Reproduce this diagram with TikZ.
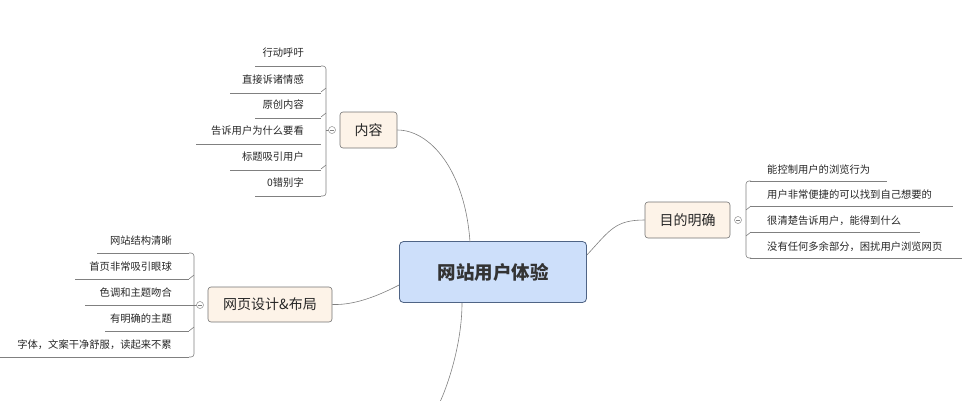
\documentclass[tikz,border=0pt]{standalone}
\usepackage{fontspec}
\newfontfamily\cjk{Noto Sans CJK SC}
\definecolor{cfill}{HTML}{CDDFFA}
\definecolor{cdraw}{HTML}{4F6485}
\definecolor{tfill}{HTML}{FDF3E8}
\begin{document}
\begin{tikzpicture}[x=1pt,y=-1pt,
  leaf/.style={font=\cjk\fontsize{10.3}{12}\selectfont,text=black!85,inner sep=0pt},
  topic/.style={draw=black!55,rounded corners=3pt,fill=tfill,font=\cjk\fontsize{14}{16}\selectfont,text=black!85,line width=0.6pt},
  ln/.style={draw=black!50,line width=0.6pt},
  col/.style={circle,draw=black!45,fill=white,inner sep=0pt,minimum size=7pt,line width=0.5pt}]
\useasboundingbox (0,0) rectangle (978,400);
\node[draw=cdraw,fill=cfill,rounded corners=4pt,minimum width=187pt,minimum height=61pt,font=\cjk\bfseries\fontsize{18.5}{20}\selectfont,text=black!80,line width=0.8pt] (c) at (493,272) {网站用户体验};
\node[topic,minimum width=57pt,minimum height=36pt] (nr) at (368.5,130) {内容};
\node[topic,minimum width=85pt,minimum height=36pt] (md) at (687.5,220) {目的明确};
\node[topic,minimum width=124pt,minimum height=35pt] (wy) at (270,304.5) {网页设计\&布局};
\draw[ln] (470,242) .. controls (465,170) and (430,130) .. (nr.east);
\draw[ln] (c.east|-0,255) .. controls (610,230) and (615,220) .. (md.west);
\draw[ln] (c.west|-0,285) .. controls (370,300) and (350,305) .. (wy.east);
\draw[ln] (462,303) .. controls (462,340) and (450,380) .. (440,402);
% content leaves
\foreach \t/\y/\x [count=\i] in {行动呼吁/53/255,直接诉诸情感/80/230,原创内容/105/255,告诉用户为什么要看/131/196,标题吸引用户/157/230,0错别字/183/255}{
  \node[leaf,anchor=east] (a\i) at (304,\y) {\t};
  \draw[ln] (\x,\y+13) -- (321,\y+13);
}
\draw[ln,rounded corners=3pt] (321,66) -- (326,66) -- (326,196) -- (321,196);
\foreach \y in {92,117,169}{\draw[ln,rounded corners=3pt] (321,\y) -- (326,\y-4);}
\draw[ln] (326,130) -- (332,130);
\node[col] (ca) at (332,130) {};
\draw[black!50,line width=0.5pt] ([xshift=-1.8pt]ca.center) -- ([xshift=1.8pt]ca.center);
% right leaves
\foreach \t/\y/\x [count=\i] in {能控制用户的浏览行为/170/887,用户非常便捷的可以找到自己想要的/195/953,很清楚告诉用户，能得到什么/221/920,没有任何多余部分，困扰用户浏览网页/247/962}{
  \node[leaf,anchor=west] (b\i) at (767,\y) {\t};
  \draw[ln] (750,\y+11) -- (\x,\y+11);
}
\draw[ln,rounded corners=3pt] (751,181) -- (746,181) -- (746,258) -- (751,258);
\foreach \y in {206,232}{\draw[ln,rounded corners=3pt] (751,\y) -- (746,\y+4);}
\node[col] (cb) at (738,220) {};
\draw[black!50,line width=0.5pt] ([xshift=-1.8pt]cb.center) -- ([xshift=1.8pt]cb.center);
% left leaves
\foreach \t/\y/\x [count=\i] in {网站结构清晰/241/97,首页非常吸引眼球/267/75,色调和主题吻合/293/85,有明确的主题/319/105,字体，文案干净舒服，读起来不累/345/0}{
  \node[leaf,anchor=east] (d\i) at (172,\y) {\t};
  \draw[ln] (\x,\y+12) -- (189,\y+12);
}
\draw[ln,rounded corners=3pt] (189,253) -- (194,253) -- (194,357) -- (189,357);
\foreach \y in {279,331}{\draw[ln,rounded corners=3pt] (189,\y) -- (194,\y-4);}
\draw[ln] (189,305) -- (200,305);
\node[col] (cd) at (200,305) {};
\draw[black!50,line width=0.5pt] ([xshift=-1.8pt]cd.center) -- ([xshift=1.8pt]cd.center);
\end{tikzpicture}
\end{document}
